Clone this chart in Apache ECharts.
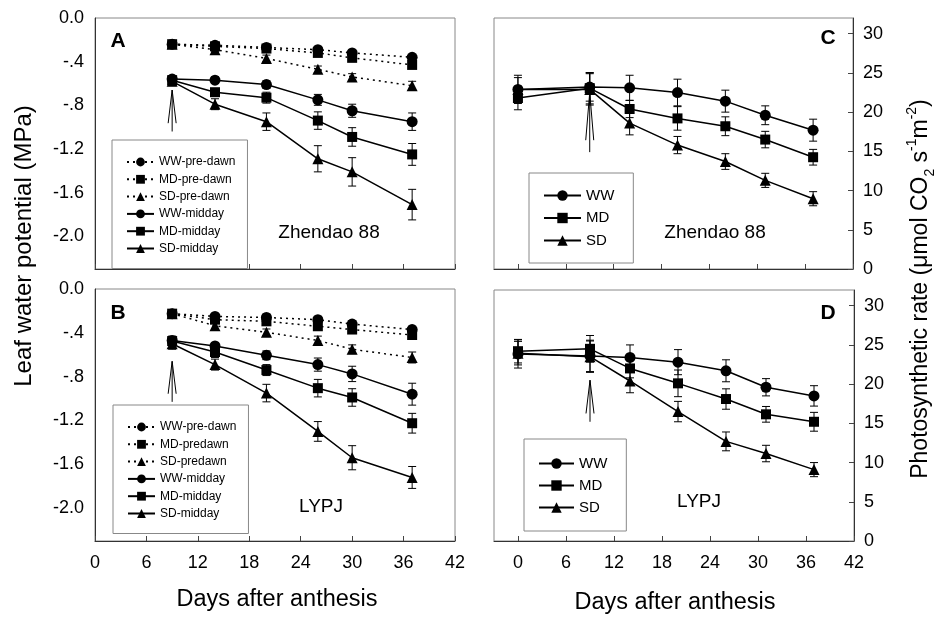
<!DOCTYPE html>
<html lang="en">
<head>
    <meta charset="UTF-8">
    <title>Leaf water potential and photosynthetic rate</title>
    <style>
        html, body { margin: 0; padding: 0; background: #fff; }
    </style>
</head>
<body>
<div id="main" style="width: 938px;height:617px;"></div>

<script src="https://cdn.jsdelivr.net/npm/echarts@6.0.0/dist/echarts.min.js"></script>

<script type="text/javascript">
    // days after anthesis
    var daysL = [9, 14, 20, 26, 30, 37];
    var daysR = [0, 9, 14, 20, 26, 31, 37];

    // A: Zhendao 88, leaf water potential (MPa)
    var aWWpre = [-0.24, -0.25, -0.27, -0.29, -0.32, -0.36];
    var aMDpre = [-0.24, -0.26, -0.28, -0.32, -0.365, -0.43];
    var aSDpre = [-0.24, -0.29, -0.37, -0.47, -0.54, -0.62];
    var aWWmid = [-0.56, -0.57, -0.61, -0.75, -0.85, -0.95];
    var aMDmid = [-0.57, -0.68, -0.73, -0.94, -1.09, -1.25];
    var aSDmid = [-0.58, -0.79, -0.95, -1.29, -1.41, -1.71];
    var aWWpreErr = [0.02, 0.02, 0.02, 0.02, 0.02, 0.02];
    var aMDpreErr = [0.02, 0.02, 0.02, 0.02, 0.03, 0.03];
    var aSDpreErr = [0.02, 0.02, 0.03, 0.03, 0.03, 0.04];
    var aWWmidErr = [0.03, 0.03, 0.035, 0.05, 0.06, 0.08];
    var aMDmidErr = [0.03, 0.03, 0.05, 0.08, 0.085, 0.1];
    var aSDmidErr = [0.04, 0.05, 0.08, 0.12, 0.13, 0.14];

    // B: LYPJ, leaf water potential (MPa)
    var bWWpre = [-0.225, -0.25, -0.26, -0.28, -0.32, -0.37];
    var bMDpre = [-0.225, -0.28, -0.295, -0.34, -0.37, -0.42];
    var bSDpre = [-0.225, -0.335, -0.395, -0.47, -0.55, -0.625];
    var bWWmid = [-0.47, -0.52, -0.605, -0.69, -0.775, -0.96];
    var bMDmid = [-0.475, -0.575, -0.74, -0.905, -0.99, -1.225];
    var bSDmid = [-0.5, -0.69, -0.95, -1.30, -1.54, -1.72];
    var bWWpreErr = [0.02, 0.02, 0.03, 0.03, 0.03, 0.03];
    var bMDpreErr = [0.02, 0.02, 0.03, 0.03, 0.03, 0.03];
    var bSDpreErr = [0.02, 0.03, 0.03, 0.04, 0.04, 0.05];
    var bWWmidErr = [0.04, 0.03, 0.04, 0.06, 0.07, 0.1];
    var bMDmidErr = [0.04, 0.05, 0.05, 0.08, 0.08, 0.09];
    var bSDmidErr = [0.05, 0.05, 0.08, 0.09, 0.11, 0.1];

    // C: Zhendao 88, photosynthetic rate
    var cWW = [22.9, 23.2, 23.1, 22.5, 21.4, 19.6, 17.7];
    var cMD = [21.8, 23.05, 20.4, 19.2, 18.2, 16.5, 14.25];
    var cSD = [22.9, 22.9, 18.6, 15.8, 13.7, 11.3, 8.96];
    var cWWErr = [1.8, 1.8, 1.6, 1.7, 1.4, 1.2, 1.4];
    var cMDErr = [1.5, 2.0, 1.1, 1.5, 1.2, 1.05, 1.0];
    var cSDErr = [1.5, 2.0, 1.5, 1.1, 1.0, 0.9, 0.9];

    // D: LYPJ, photosynthetic rate
    var dWW = [23.85, 23.6, 23.4, 22.8, 21.7, 19.6, 18.5];
    var dMD = [24.2, 24.5, 22.0, 20.1, 18.1, 16.15, 15.2];
    var dSD = [23.95, 23.5, 20.4, 16.5, 12.7, 11.15, 9.1];
    var dWWErr = [1.8, 2.0, 1.6, 1.6, 1.4, 1.1, 1.3];
    var dMDErr = [1.5, 1.7, 1.2, 1.7, 1.3, 1.0, 1.2];
    var dSDErr = [1.5, 2.0, 1.5, 1.3, 1.2, 1.05, 0.9];

    // arrow (start of drought) : [day, bottom, top]
    var arrowA = [9, -1.04, -0.66];
    var arrowB = [9, -1.03, -0.66];
    var arrowC = [9, 14.9, 22.5];
    var arrowD = [9, 15.2, 20.5];

    // tick labels
    var xTicks = [0, 6, 12, 18, 24, 30, 36, 42];
    var lwpTicks = [0, -0.4, -0.8, -1.2, -1.6, -2.0];
    var pnTicks = [0, 5, 10, 15, 20, 25, 30];

    var legendA = ['WW-pre-dawn', 'MD-pre-dawn', 'SD-pre-dawn', 'WW-midday', 'MD-midday', 'SD-midday'];
    var legendB = ['WW-pre-dawn', 'MD-predawn', 'SD-predawn', 'WW-midday', 'MD-midday', 'SD-midday'];
    var legendCD = ['WW', 'MD', 'SD'];

    var FONT = 'Liberation Sans, Arial, sans-serif';
    var symSize = { circle: 11, rect: 10, triangle: 11 };

    function pairs(days, vals, errs) {
        var out = [];
        for (var i = 0; i < days.length; i++) {
            out.push(errs ? [days[i], vals[i], errs[i]] : [days[i], vals[i]]);
        }
        return out;
    }

    function lineSeries(name, idx, days, vals, symbol, dotted) {
        return {
            name: name,
            type: 'line',
            xAxisIndex: idx,
            yAxisIndex: idx,
            data: pairs(days, vals),
            symbol: symbol,
            symbolSize: symSize[symbol],
            itemStyle: { color: '#000' },
            lineStyle: { color: '#000', width: 1.5, type: dotted ? [2, 4] : 'solid' },
            z: 3
        };
    }

    function errRender(params, api) {
        var x = api.value(0), y = api.value(1), e = api.value(2);
        var top = api.coord([x, y + e]);
        var bot = api.coord([x, y - e]);
        var c = 4;
        var st = { stroke: '#000', lineWidth: 1 };
        return {
            type: 'group',
            children: [
                { type: 'line', shape: { x1: top[0], y1: top[1], x2: bot[0], y2: bot[1] }, style: st },
                { type: 'line', shape: { x1: top[0] - c, y1: top[1], x2: top[0] + c, y2: top[1] }, style: st },
                { type: 'line', shape: { x1: bot[0] - c, y1: bot[1], x2: bot[0] + c, y2: bot[1] }, style: st }
            ]
        };
    }

    function errSeries(idx, days, vals, errs) {
        return {
            type: 'custom',
            xAxisIndex: idx,
            yAxisIndex: idx,
            renderItem: errRender,
            data: pairs(days, vals, errs),
            silent: true,
            z: 2
        };
    }

    function arrowRender(params, api) {
        var bot = api.coord([api.value(0), api.value(1)]);
        var top = api.coord([api.value(0), api.value(2)]);
        var headY = top[1] + (bot[1] - top[1]) * 0.8;
        var st = { stroke: '#000', lineWidth: 1 };
        return {
            type: 'group',
            children: [
                { type: 'line', shape: { x1: top[0], y1: top[1], x2: bot[0], y2: bot[1] }, style: st },
                { type: 'line', shape: { x1: top[0], y1: top[1], x2: top[0] - 4, y2: headY }, style: st },
                { type: 'line', shape: { x1: top[0], y1: top[1], x2: top[0] + 4, y2: headY }, style: st }
            ]
        };
    }

    function arrowSeries(idx, arr) {
        return {
            type: 'custom',
            xAxisIndex: idx,
            yAxisIndex: idx,
            renderItem: arrowRender,
            data: [arr],
            silent: true,
            z: 1
        };
    }

    function xAxisL(idx, showLabel) {
        return {
            gridIndex: idx, type: 'value', min: 0, max: 42, interval: 6,
            axisLine: { show: true, onZero: false, lineStyle: { color: '#333', width: 1 } },
            axisTick: { show: true, inside: true, length: 5, lineStyle: { color: '#444' } },
            axisLabel: { show: showLabel, fontSize: 18, color: '#000', margin: 13, fontFamily: FONT },
            splitLine: { show: false }
        };
    }

    function xAxisR(idx, showLabel) {
        return {
            gridIndex: idx, type: 'value', min: -3, max: 42,
            axisLine: { show: true, onZero: false, lineStyle: { color: '#333', width: 1 } },
            axisTick: { show: true, inside: true, length: 5, customValues: xTicks, lineStyle: { color: '#444' } },
            axisLabel: { show: showLabel, fontSize: 18, color: '#000', margin: 13, customValues: xTicks, fontFamily: FONT },
            splitLine: { show: false }
        };
    }

    function yAxisL(idx) {
        return {
            gridIndex: idx, type: 'value', min: -2.3, max: 0,
            axisLine: { show: true, onZero: false, lineStyle: { color: '#333', width: 1 } },
            axisTick: { show: false },
            axisLabel: {
                fontSize: 18, color: '#000', margin: 11, fontFamily: FONT,
                customValues: lwpTicks,
                formatter: function (v) {
                    if (Math.abs(v) < 1e-9) return '0.0';
                    return v.toFixed(1).replace('0.', '.');
                }
            },
            splitLine: { show: false }
        };
    }

    function yAxisR(idx) {
        return {
            gridIndex: idx, type: 'value', min: 0, max: 32, position: 'right',
            axisLine: { show: true, onZero: false, lineStyle: { color: '#333', width: 1 } },
            axisTick: { show: true, inside: true, length: 5, customValues: pnTicks, lineStyle: { color: '#444' } },
            axisLabel: { fontSize: 18, color: '#000', margin: 10, customValues: pnTicks, fontFamily: FONT },
            splitLine: { show: false }
        };
    }

    function legendBox(names, left, top, itemW, itemH, gap, fontSize, padding) {
        return {
            data: names,
            orient: 'vertical',
            left: left,
            top: top,
            itemWidth: itemW,
            itemHeight: itemH,
            itemGap: gap,
            padding: padding,
            borderColor: '#888',
            borderWidth: 1,
            backgroundColor: '#fff',
            selectedMode: false,
            textStyle: { fontSize: fontSize, color: '#000', fontFamily: FONT }
        };
    }

    function txt(text, x, y, size, bold, rotate) {
        return {
            type: 'text', x: x, y: y, rotation: rotate ? Math.PI / 2 : 0,
            style: {
                text: text, fill: '#000', fontSize: size, fontFamily: FONT,
                fontWeight: bold ? 'bold' : 'normal',
                align: 'center', verticalAlign: 'middle'
            }
        };
    }

    var series = [];
    // panel A
    series.push(arrowSeries(0, arrowA));
    series.push(errSeries(0, daysL, aWWpre, aWWpreErr));
    series.push(errSeries(0, daysL, aMDpre, aMDpreErr));
    series.push(errSeries(0, daysL, aSDpre, aSDpreErr));
    series.push(errSeries(0, daysL, aWWmid, aWWmidErr));
    series.push(errSeries(0, daysL, aMDmid, aMDmidErr));
    series.push(errSeries(0, daysL, aSDmid, aSDmidErr));
    series.push(lineSeries('WW-pre-dawn', 0, daysL, aWWpre, 'circle', true));
    series.push(lineSeries('MD-pre-dawn', 0, daysL, aMDpre, 'rect', true));
    series.push(lineSeries('SD-pre-dawn', 0, daysL, aSDpre, 'triangle', true));
    series.push(lineSeries('WW-midday', 0, daysL, aWWmid, 'circle', false));
    series.push(lineSeries('MD-midday', 0, daysL, aMDmid, 'rect', false));
    series.push(lineSeries('SD-midday', 0, daysL, aSDmid, 'triangle', false));
    // panel B
    series.push(arrowSeries(1, arrowB));
    series.push(errSeries(1, daysL, bWWpre, bWWpreErr));
    series.push(errSeries(1, daysL, bMDpre, bMDpreErr));
    series.push(errSeries(1, daysL, bSDpre, bSDpreErr));
    series.push(errSeries(1, daysL, bWWmid, bWWmidErr));
    series.push(errSeries(1, daysL, bMDmid, bMDmidErr));
    series.push(errSeries(1, daysL, bSDmid, bSDmidErr));
    series.push(lineSeries('WW-pre-dawn', 1, daysL, bWWpre, 'circle', true));
    series.push(lineSeries('MD-predawn', 1, daysL, bMDpre, 'rect', true));
    series.push(lineSeries('SD-predawn', 1, daysL, bSDpre, 'triangle', true));
    series.push(lineSeries('WW-midday', 1, daysL, bWWmid, 'circle', false));
    series.push(lineSeries('MD-midday', 1, daysL, bMDmid, 'rect', false));
    series.push(lineSeries('SD-midday', 1, daysL, bSDmid, 'triangle', false));
    // panel C
    series.push(arrowSeries(2, arrowC));
    series.push(errSeries(2, daysR, cWW, cWWErr));
    series.push(errSeries(2, daysR, cMD, cMDErr));
    series.push(errSeries(2, daysR, cSD, cSDErr));
    series.push(lineSeries('WW', 2, daysR, cWW, 'circle', false));
    series.push(lineSeries('MD', 2, daysR, cMD, 'rect', false));
    series.push(lineSeries('SD', 2, daysR, cSD, 'triangle', false));
    // panel D
    series.push(arrowSeries(3, arrowD));
    series.push(errSeries(3, daysR, dWW, dWWErr));
    series.push(errSeries(3, daysR, dMD, dMDErr));
    series.push(errSeries(3, daysR, dSD, dSDErr));
    series.push(lineSeries('WW', 3, daysR, dWW, 'circle', false));
    series.push(lineSeries('MD', 3, daysR, dMD, 'rect', false));
    series.push(lineSeries('SD', 3, daysR, dSD, 'triangle', false));

    var myChart = echarts.init(document.getElementById('main'));

    var option = {
        animation: false,
        backgroundColor: '#fff',
        textStyle: { fontFamily: FONT },
        grid: [
            { left: 95, top: 18, width: 360, height: 251, show: true, borderColor: '#888', borderWidth: 1 },
            { left: 95, top: 289, width: 360, height: 252, show: true, borderColor: '#888', borderWidth: 1 },
            { left: 494, top: 18, width: 359, height: 251, show: true, borderColor: '#888', borderWidth: 1 },
            { left: 494, top: 290, width: 360, height: 251, show: true, borderColor: '#888', borderWidth: 1 }
        ],
        xAxis: [xAxisL(0, false), xAxisL(1, true), xAxisR(2, false), xAxisR(3, true)],
        yAxis: [yAxisL(0), yAxisL(1), yAxisR(2), yAxisR(3)],
        legend: [
            legendBox(legendA, 112, 140, 27, 11, 5.3, 12, [16, 12, 14, 14]),
            legendBox(legendB, 113, 405, 27, 11, 5.3, 12, [16, 12, 14, 14]),
            legendBox(legendCD, 529, 173, 37, 13, 7.5, 15, [15, 19, 15, 14]),
            legendBox(legendCD, 524, 439, 35, 13, 7, 15, [17, 19, 16, 14])
        ],
        graphic: [
            txt('A', 118, 41, 21, true),
            txt('B', 118, 313, 21, true),
            txt('C', 828, 38, 21, true),
            txt('D', 828, 313, 21, true),
            txt('Zhendao 88', 329, 233, 19),
            txt('Zhendao 88', 715, 233, 19),
            txt('LYPJ', 321, 507, 19),
            txt('LYPJ', 699, 502, 19),
            txt('Days after anthesis', 277, 600, 23.5),
            txt('Days after anthesis', 675, 603, 23.5),
            txt('Leaf water potential (MPa)', 24, 246, 24, false, true),
            {
                type: 'text', x: 921, y: 289, rotation: Math.PI / 2,
                style: {
                    text: 'Photosynthetic rate (\u03bcmol CO{sub|2} s{sup|-1}m{sup|-2})',
                    fill: '#000', fontSize: 23, fontFamily: FONT,
                    align: 'center', verticalAlign: 'middle', lineHeight: 32,
                    rich: {
                        sub: { fontSize: 14, fontFamily: FONT, fill: '#000', verticalAlign: 'bottom', lineHeight: 32 },
                        sup: { fontSize: 14, fontFamily: FONT, fill: '#000', verticalAlign: 'top', lineHeight: 32 }
                    }
                }
            }
        ],
        series: series
    };

    myChart.setOption(option);
</script>
</body>
</html>
